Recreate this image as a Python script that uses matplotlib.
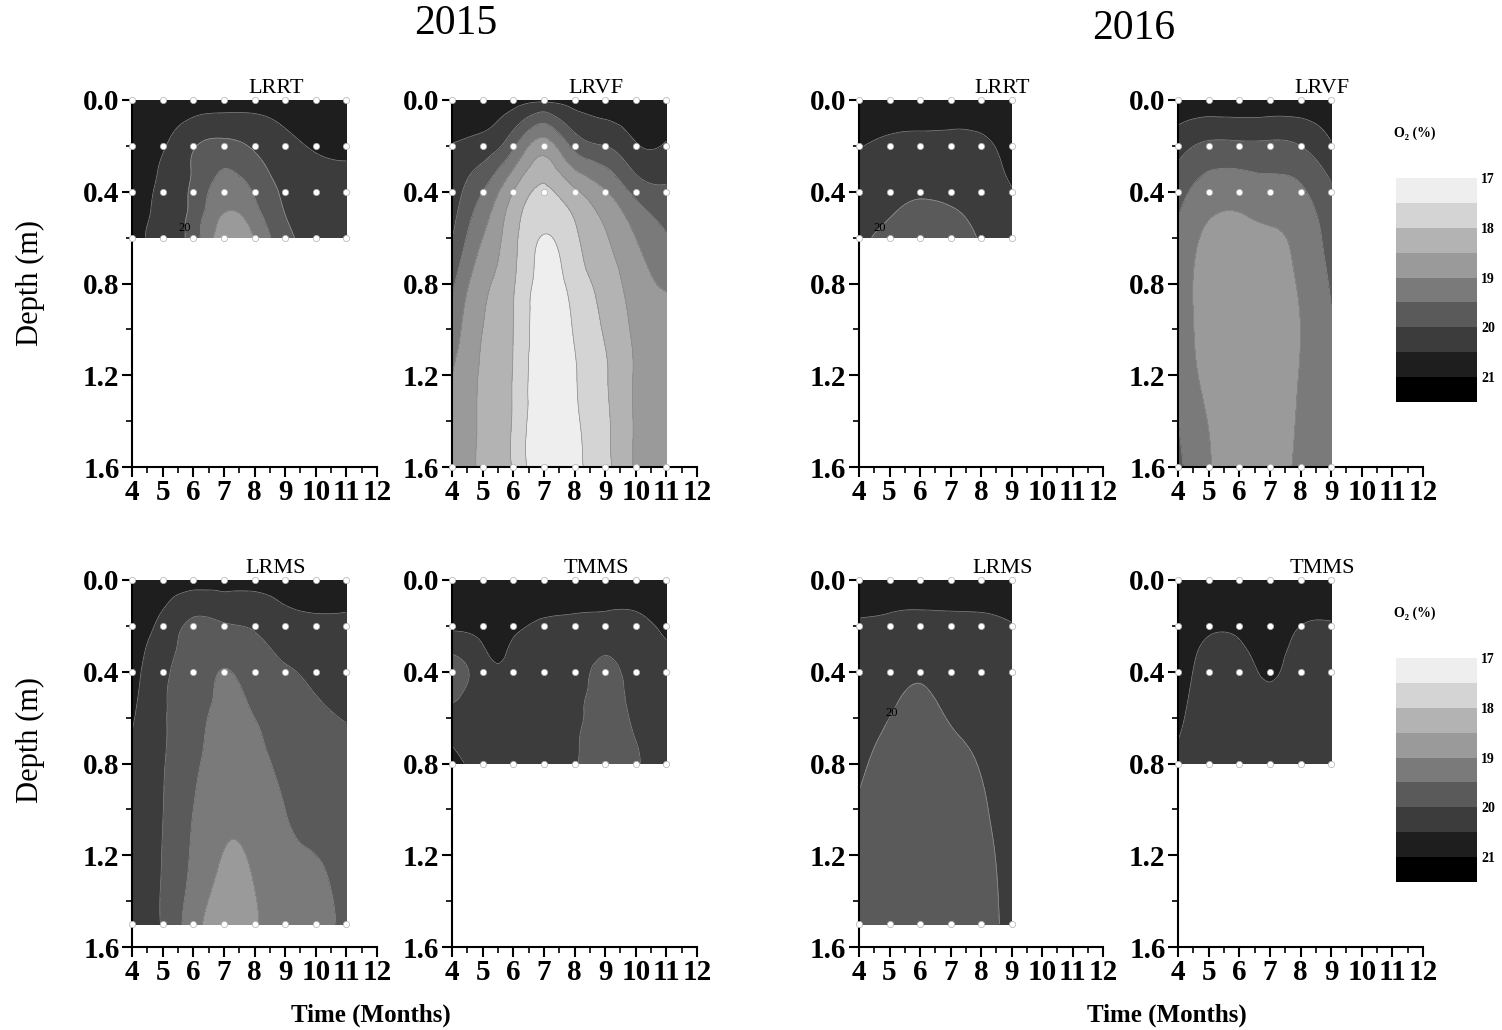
import numpy as np
import matplotlib
matplotlib.use('Agg')
import matplotlib.pyplot as plt
import matplotlib.tri as mtri
from matplotlib.colors import ListedColormap, BoundaryNorm
from matplotlib.cm import ScalarMappable
from matplotlib.ticker import MultipleLocator, FormatStrFormatter, NullLocator

plt.rcParams['font.family'] = ['Liberation Serif', 'DejaVu Serif']

# O2 (%) contour levels and the gray fill of each band (light -> dark)
levels = [17.0, 17.5, 18.0, 18.5, 19.0, 19.5, 20.0, 20.5, 21.0, 21.5]
grays = ['#eeeeee', '#d4d4d4', '#b3b3b3', '#9a9a9a', '#7a7a7a',
         '#5a5a5a', '#3c3c3c', '#1e1e1e', '#000000']
cbar_ticks = [17, 18, 19, 20, 21]

months_2015 = [4, 5, 6, 7, 8, 9, 10, 11]
months_2016 = [4, 5, 6, 7, 8, 9]

# ---- 2015 ----
lrrt15_depths = [0.0, 0.2, 0.4, 0.6]
lrrt15_gx = months_2015
lrrt15_gy = [0.0, 0.1, 0.2, 0.3, 0.4, 0.5, 0.6]
lrrt15_o2 = [
    [20.9, 20.85, 20.75, 20.75, 20.75, 20.8, 20.85, 20.85],
    [20.85, 20.7, 20.4, 20.3, 20.35, 20.55, 20.7, 20.75],
    [20.8, 20.55, 20.05, 19.85, 20.07, 20.35, 20.55, 20.6],
    [20.75, 20.45, 19.95, 19.5, 19.8, 20.2, 20.4, 20.45],
    [20.72, 20.4, 19.88, 19.25, 19.55, 20.1, 20.35, 20.35],
    [20.68, 20.38, 19.82, 18.97, 19.3, 20.0, 20.3, 20.3],
    [20.65, 20.35, 19.75, 18.7, 19.0, 19.85, 20.15, 20.25],
]

lrvf15_depths = [0.0, 0.2, 0.4, 1.6]
lrvf15_gx = months_2015
lrvf15_gy = [0.0, 0.2, 0.4, 0.6, 0.8, 1.0, 1.2, 1.4, 1.6]
lrvf15_o2 = [
    [20.9, 20.8, 20.7, 20.6, 20.65, 20.75, 20.8, 20.8],
    [20.48, 20.3, 19.6, 18.75, 19.65, 20.0, 20.45, 20.45],
    [20.25, 19.5, 18.5, 17.9, 18.4, 18.95, 19.65, 19.9],
    [20.02, 19.0, 18.15, 17.47, 17.9, 18.45, 19.0, 19.45],
    [19.6, 18.65, 18.05, 17.3, 17.7, 18.2, 18.75, 19.05],
    [19.3, 18.5, 18.0, 17.2, 17.55, 18.05, 18.6, 18.85],
    [19.0, 18.45, 17.97, 17.15, 17.45, 17.95, 18.55, 18.75],
    [18.85, 18.45, 17.95, 17.1, 17.4, 17.9, 18.55, 18.7],
    [18.75, 18.45, 17.95, 17.1, 17.35, 17.85, 18.55, 18.7],
]

lrms15_depths = [0.0, 0.2, 0.4, 1.5]
lrms15_gx = months_2015
lrms15_gy = [0.0, 0.2, 0.4, 0.6, 0.8, 1.0, 1.25, 1.5]
lrms15_o2 = [
    [20.9, 20.8, 20.75, 20.7, 20.7, 20.75, 20.8, 20.8],
    [20.85, 20.35, 19.9, 19.95, 20.05, 20.3, 20.4, 20.4],
    [20.75, 20.08, 19.8, 19.48, 19.75, 19.95, 20.1, 20.2],
    [20.55, 20.05, 19.7, 19.35, 19.5, 19.75, 19.92, 20.02],
    [20.45, 20.03, 19.62, 19.22, 19.35, 19.6, 19.8, 19.9],
    [20.4, 20.01, 19.5, 19.1, 19.2, 19.5, 19.7, 19.85],
    [20.35, 19.98, 19.4, 18.95, 19.05, 19.35, 19.45, 19.75],
    [20.3, 19.96, 19.2, 18.75, 18.95, 19.2, 19.3, 19.65],
]

tmms15_depths = [0.0, 0.2, 0.4, 0.8]
tmms15_gx = [4, 5, 5.5, 6, 7, 8, 9, 10, 11]
tmms15_gy = [0.0, 0.1, 0.2, 0.3, 0.4, 0.5, 0.6, 0.7, 0.8]
tmms15_o2 = [
    [20.9, 20.9, 20.9, 20.85, 20.85, 20.85, 20.8, 20.8, 20.9],
    [20.8, 20.85, 20.85, 20.8, 20.7, 20.65, 20.6, 20.6, 20.8],
    [20.6, 20.7, 20.75, 20.65, 20.4, 20.35, 20.3, 20.35, 20.6],
    [20.1, 20.45, 20.62, 20.4, 20.3, 20.25, 20.05, 20.25, 20.45],
    [19.8, 20.25, 20.45, 20.3, 20.25, 20.2, 19.9, 20.2, 20.35],
    [19.9, 20.25, 20.35, 20.25, 20.2, 20.15, 19.85, 20.15, 20.3],
    [20.2, 20.25, 20.3, 20.25, 20.2, 20.1, 19.85, 20.08, 20.3],
    [20.45, 20.3, 20.3, 20.25, 20.15, 20.05, 19.8, 20.0, 20.25],
    [20.65, 20.35, 20.3, 20.25, 20.15, 20.03, 19.8, 19.95, 20.25],
]

# ---- 2016 ----
lrrt16_depths = [0.0, 0.2, 0.4, 0.6]
lrrt16_gx = months_2016
lrrt16_gy = [0.0, 0.1, 0.2, 0.3, 0.4, 0.5, 0.6]
lrrt16_o2 = [
    [20.85, 20.8, 20.8, 20.8, 20.8, 20.9],
    [20.7, 20.6, 20.58, 20.56, 20.6, 20.8],
    [20.52, 20.42, 20.38, 20.38, 20.4, 20.7],
    [20.4, 20.3, 20.25, 20.25, 20.3, 20.6],
    [20.3, 20.15, 20.06, 20.1, 20.2, 20.47],
    [20.2, 20.02, 19.9, 19.95, 20.1, 20.35],
    [20.1, 19.88, 19.8, 19.85, 20.03, 20.25],
]

lrvf16_depths = [0.0, 0.2, 0.4, 1.6]
lrvf16_gx = months_2016
lrvf16_gy = [0.0, 0.2, 0.4, 0.6, 0.8, 1.0, 1.2, 1.4, 1.6]
lrvf16_o2 = [
    [20.9, 20.9, 20.9, 20.9, 20.85, 20.85],
    [20.2, 19.9, 19.9, 19.9, 20.0, 20.45],
    [19.7, 19.25, 19.2, 19.3, 19.42, 19.9],
    [19.4, 18.9, 18.85, 18.93, 19.15, 19.7],
    [19.3, 18.8, 18.75, 18.85, 19.05, 19.55],
    [19.3, 18.8, 18.7, 18.8, 19.0, 19.45],
    [19.4, 18.85, 18.7, 18.8, 19.02, 19.4],
    [19.5, 18.98, 18.7, 18.8, 19.05, 19.4],
    [19.6, 19.05, 18.7, 18.82, 19.08, 19.4],
]

lrms16_depths = [0.0, 0.2, 0.4, 1.5]
lrms16_gx = months_2016
lrms16_gy = [0.0, 0.2, 0.4, 0.6, 0.8, 1.0, 1.25, 1.5]
lrms16_o2 = [
    [20.85, 20.8, 20.8, 20.8, 20.8, 20.85],
    [20.45, 20.4, 20.35, 20.38, 20.4, 20.48],
    [20.3, 20.15, 20.05, 20.15, 20.2, 20.35],
    [20.18, 20.0, 19.9, 20.02, 20.1, 20.3],
    [20.08, 19.85, 19.8, 19.9, 20.02, 20.25],
    [19.95, 19.75, 19.72, 19.8, 19.95, 20.2],
    [19.85, 19.7, 19.68, 19.75, 19.88, 20.15],
    [19.8, 19.68, 19.65, 19.72, 19.85, 20.12],
]

tmms16_depths = [0.0, 0.2, 0.4, 0.8]
tmms16_gx = months_2016
tmms16_gy = [0.0, 0.1, 0.2, 0.3, 0.4, 0.5, 0.6, 0.7, 0.8]
tmms16_o2 = [
    [20.9, 20.9, 20.9, 20.9, 20.85, 20.85],
    [20.9, 20.8, 20.8, 20.85, 20.75, 20.7],
    [20.85, 20.6, 20.62, 20.75, 20.5, 20.45],
    [20.8, 20.4, 20.42, 20.65, 20.35, 20.32],
    [20.75, 20.3, 20.3, 20.55, 20.28, 20.28],
    [20.68, 20.25, 20.25, 20.45, 20.25, 20.25],
    [20.6, 20.22, 20.22, 20.38, 20.22, 20.22],
    [20.5, 20.2, 20.2, 20.33, 20.2, 20.2],
    [20.4, 20.2, 20.2, 20.3, 20.2, 20.2],
]

W, H = 1502, 1030
fig = plt.figure(figsize=(W / 100, H / 100), dpi=100)


def px_axes(x0, y0, x1, y1):
    return fig.add_axes([x0 / W, 1 - y1 / H, (x1 - x0) / W, (y1 - y0) / H])


def contour_panel(ax, title, gx, gy, o2, months, depths, label20=None):
    # smooth the gridded field with a cubic refinement (depth stretched
    # so the cells are roughly square on screen)
    sy = 7.5
    mx, my = np.meshgrid(gx, gy)
    tri = mtri.Triangulation(mx.ravel(), my.ravel() * sy)
    fine, zf = mtri.UniformTriRefiner(tri).refine_field(np.asarray(o2, float).ravel(), subdiv=4)
    fine = mtri.Triangulation(fine.x, fine.y / sy, fine.triangles)
    ax.tricontourf(fine, zf, levels=levels, colors=grays)
    ax.tricontour(fine, zf, levels=levels, colors='#8a8a8a', linewidths=0.5)
    if label20 is not None:
        cs20 = ax.tricontour(fine, zf, levels=[20.0], colors='#8a8a8a', linewidths=0.5)
        ax.clabel(cs20, fmt='%g', fontsize=9, colors='black',
                  inline=True, manual=[label20])
        for t in cs20.labelTexts:
            t.set_rotation(0)

    # sampling points
    px, py = np.meshgrid(months, depths)
    ax.plot(px.ravel(), py.ravel(), 'o', ms=4.5, mfc='white', mec='#b0b0b0',
            mew=0.5, clip_on=False, zorder=6)

    ax.set_xlim(4, 12)
    ax.set_ylim(1.6, 0)
    for s in ['top', 'right']:
        ax.spines[s].set_visible(False)
    for s in ['left', 'bottom']:
        ax.spines[s].set_linewidth(1.5)
        ax.spines[s].set_zorder(4)
    ax.xaxis.set_major_locator(MultipleLocator(1))
    ax.xaxis.set_minor_locator(MultipleLocator(0.5))
    ax.yaxis.set_major_locator(MultipleLocator(0.4))
    ax.yaxis.set_minor_locator(MultipleLocator(0.2))
    ax.yaxis.set_major_formatter(FormatStrFormatter('%.1f'))
    ax.tick_params(which='major', direction='out', length=7, width=1.5, pad=2,
                   labelsize=21)
    ax.tick_params(which='minor', direction='out', length=4, width=1.2)
    for lab in ax.get_xticklabels() + ax.get_yticklabels():
        lab.set_fontweight('bold')
    ax.text(8.7, -0.03, title, ha='center', va='baseline', fontsize=16)


col_px = [(132, 377), (452, 697), (859, 1103), (1178, 1423)]
row_px = [(100, 467), (580, 947)]

panels = [
    (0, 0, 'LRRT', lrrt15_gx, lrrt15_gy, lrrt15_o2, months_2015, lrrt15_depths, (5.2, 0.56)),
    (0, 1, 'LRVF', lrvf15_gx, lrvf15_gy, lrvf15_o2, months_2015, lrvf15_depths, None),
    (0, 2, 'LRRT', lrrt16_gx, lrrt16_gy, lrrt16_o2, months_2016, lrrt16_depths, (4.7, 0.56)),
    (0, 3, 'LRVF', lrvf16_gx, lrvf16_gy, lrvf16_o2, months_2016, lrvf16_depths, None),
    (1, 0, 'LRMS', lrms15_gx, lrms15_gy, lrms15_o2, months_2015, lrms15_depths, None),
    (1, 1, 'TMMS', tmms15_gx, tmms15_gy, tmms15_o2, months_2015, tmms15_depths, None),
    (1, 2, 'LRMS', lrms16_gx, lrms16_gy, lrms16_o2, months_2016, lrms16_depths, (4.9, 0.55)),
    (1, 3, 'TMMS', tmms16_gx, tmms16_gy, tmms16_o2, months_2016, tmms16_depths, None),
]

for r, c, title, gx, gy, o2, months, depths, lab in panels:
    x0, x1 = col_px[c]
    y0, y1 = row_px[r]
    ax = px_axes(x0, y0, x1, y1)
    contour_panel(ax, title, gx, gy, o2, months, depths, lab)

# colour scales
cmap = ListedColormap(grays)
norm = BoundaryNorm(levels, cmap.N)
for top in [178, 658]:
    cax = px_axes(1396, top, 1477, top + 224)
    cb = fig.colorbar(ScalarMappable(norm=norm, cmap=cmap), cax=cax, ticks=cbar_ticks)
    cax.invert_yaxis()
    cb.outline.set_visible(False)
    cax.yaxis.set_minor_locator(NullLocator())
    cax.tick_params(which='both', length=0, pad=3, labelsize=10)
    for lab in cax.get_yticklabels():
        lab.set_fontweight('bold')
    fig.text(1415 / W, 1 - (top - 45) / H, 'O₂ (%)', ha='center', va='center',
             fontsize=10, fontweight='bold')

# headings and shared axis labels
fig.text(456 / W, 1 - 24 / H, '2015', ha='center', va='center', fontsize=30)
fig.text(1134 / W, 1 - 29 / H, '2016', ha='center', va='center', fontsize=30)
for yc in [283, 740]:
    fig.text(30 / W, 1 - yc / H, 'Depth (m)', rotation=90, ha='center',
             va='center', fontsize=22)
for xc in [371, 1167]:
    fig.text(xc / W, 1 - 1015 / H, 'Time (Months)', ha='center', va='center',
             fontsize=18, fontweight='bold')

fig.savefig('out.png', dpi=100)
